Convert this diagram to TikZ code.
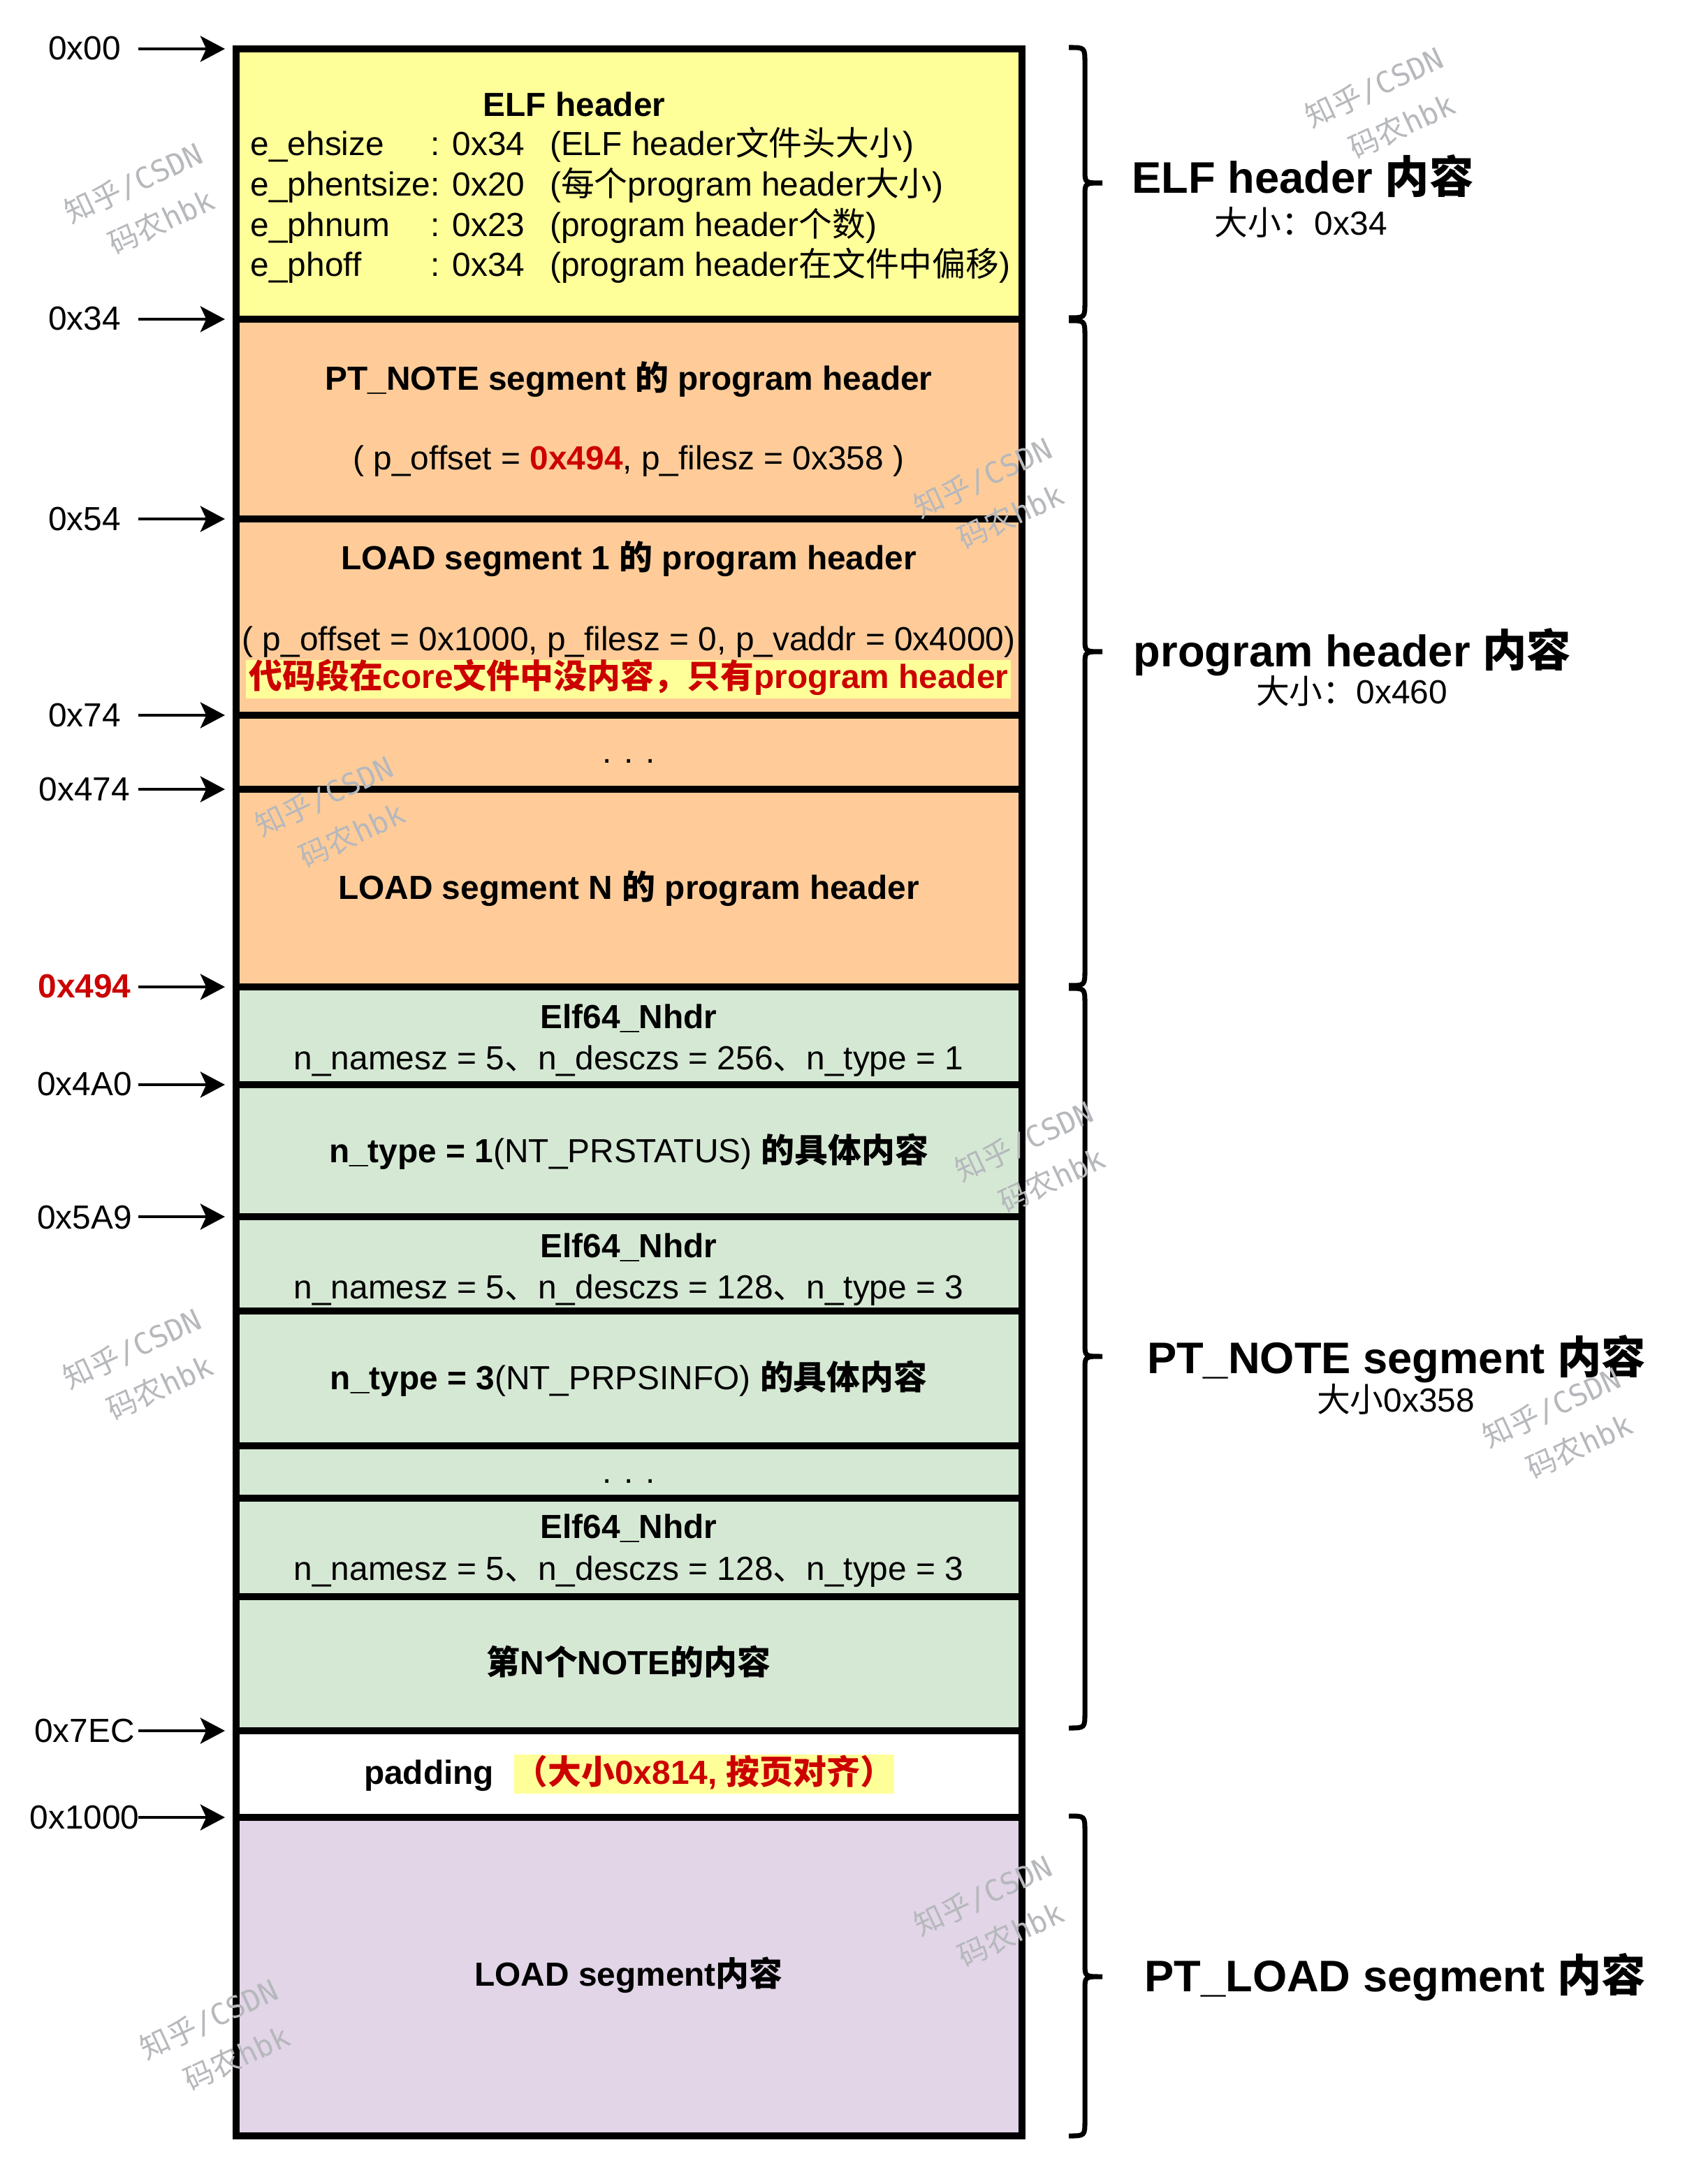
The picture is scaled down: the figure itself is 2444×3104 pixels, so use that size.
\documentclass[tikz,border=0pt]{standalone}
\usepackage{fontspec}
\setmainfont{Liberation Sans}
\newfontfamily\cjk{Noto Sans CJK SC}
\newfontfamily\wmlat{DejaVu Sans Mono}
\usetikzlibrary{arrows.meta}
\definecolor{elfy}{HTML}{FFFF99}
\definecolor{phor}{HTML}{FFCC99}
\definecolor{ntgr}{HTML}{D5E8D4}
\definecolor{ldpu}{HTML}{E1D5E7}
\definecolor{redc}{HTML}{CC0000}
\definecolor{wmg}{RGB}{182,184,188}
\newcommand\zh[1]{{\cjk #1}}
\newcommand\wmtext{{\cjk 知乎}{\wmlat /CSDN}\\\hspace*{0.9em}{\cjk 码农}{\wmlat hbk}}
\begin{document}
\begin{tikzpicture}[x=0.01cm,y=-0.01cm,
 sec/.style={draw=black,line width=2.6pt},
 txt/.style={font=\fontsize{13.6}{16.3}\selectfont,inner sep=0pt,anchor=base},
 btxt/.style={txt,font=\fontsize{13.6}{16.3}\selectfont\bfseries},
 ptr/.style={line width=1.3pt,-{Stealth[length=10pt,width=10.5pt,inset=2.4pt]}},
 brc/.style={line width=2pt},
 rbig/.style={font=\fontsize{18}{22}\selectfont\bfseries,inner sep=0pt,anchor=base},
 rsmall/.style={font=\fontsize{13.6}{16}\selectfont,inner sep=0pt,anchor=base},
 wm/.style={rotate=25,text=wmg,align=left,font=\fontsize{12}{19}\selectfont,inner sep=0pt}]

\useasboundingbox[fill=white] (0,0) rectangle (2444,3104);

% ---- sections ----
\draw[sec,fill=elfy] (338,70) rectangle (1463,457);
\draw[sec,fill=phor] (338,457) rectangle (1463,743);
\draw[sec,fill=phor] (338,743) rectangle (1463,1024);
\draw[sec,fill=phor] (338,1024) rectangle (1463,1130);
\draw[sec,fill=phor] (338,1130) rectangle (1463,1413);
\draw[sec,fill=ntgr] (338,1413) rectangle (1463,1553);
\draw[sec,fill=ntgr] (338,1553) rectangle (1463,1742);
\draw[sec,fill=ntgr] (338,1742) rectangle (1463,1877);
\draw[sec,fill=ntgr] (338,1877) rectangle (1463,2070);
\draw[sec,fill=ntgr] (338,2070) rectangle (1463,2145);
\draw[sec,fill=ntgr] (338,2145) rectangle (1463,2286);
\draw[sec,fill=ntgr] (338,2286) rectangle (1463,2478);
\draw[sec,fill=white] (338,2478) rectangle (1463,2602);
\draw[sec,fill=ldpu] (338,2602) rectangle (1463,3058);

% ---- ELF header text ----
\node[btxt] (elft) at (822,167) {ELF header};
\node[txt,anchor=base west] (elfrows) at (358,223) {\begin{tabular}[t]{@{}l@{}l@{\hspace{10.2pt}}l@{}}
e\_ehsize & : 0x34 & (ELF header\zh{文件头大小})\\
e\_phentsize & : 0x20 & (\zh{每个}program header\zh{大小})\\
e\_phnum & : 0x23 & (program header\zh{个数})\\
e\_phoff & : 0x34 & (program header\zh{在文件中偏移})
\end{tabular}};

% ---- program headers ----
\node[btxt] (notet) at (900,559) {PT\_NOTE segment \zh{的} program header};
\node[txt] (notep) at (900,673) {( p\_offset = {\bfseries\color{redc}0x494}, p\_filesz = 0x358 )};
\node[btxt] (ld1t) at (900,815) {LOAD segment 1 \zh{的} program header};
\node[txt] (ld1p) at (900,931) {( p\_offset = 0x1000, p\_filesz = 0, p\_vaddr = 0x4000)};
\fill[elfy] (352,945) rectangle (1447,1000);
\node[btxt,text=redc] (ld1r) at (900,985) {\zh{代码段在}core\zh{文件中没内容，只有}program header};
\node[txt] (dots1) at (900,1092) {. . .};
\node[btxt] (ldnt) at (900,1287) {LOAD segment N \zh{的} program header};

% ---- notes ----
\node[btxt] (nh1) at (900,1472) {Elf64\_Nhdr};
\node[txt] (nh1v) at (900,1531) {n\_namesz = 5\zh{、}n\_desczs = 256\zh{、}n\_type = 1};
\node[txt] (ns1) at (900,1664) {{\bfseries n\_type = 1}(NT\_PRSTATUS) {\bfseries\zh{的具体内容}}};
\node[btxt] (nh2) at (900,1800) {Elf64\_Nhdr};
\node[txt] (nh2v) at (900,1859) {n\_namesz = 5\zh{、}n\_desczs = 128\zh{、}n\_type = 3};
\node[txt] (ns2) at (900,1989) {{\bfseries n\_type = 3}(NT\_PRPSINFO) {\bfseries\zh{的具体内容}}};
\node[txt] (dots2) at (900,2123) {. . .};
\node[btxt] (nh3) at (900,2202) {Elf64\_Nhdr};
\node[txt] (nh3v) at (900,2262) {n\_namesz = 5\zh{、}n\_desczs = 128\zh{、}n\_type = 3};
\node[btxt] (nsn) at (900,2397) {\zh{第}N\zh{个}NOTE\zh{的内容}};
\node[btxt] (pad) at (614,2554) {padding};
\fill[elfy] (736,2512) rectangle (1280,2568);
\node[btxt,text=redc] (padr) at (1008,2554) {\zh{（大小}0x814, \zh{按页对齐）}};
\node[btxt] (ldc) at (900,2843) {LOAD segment\zh{内容}};

% ---- offset labels and arrows ----
\foreach \n/\y in {a/70,b/457,c/743,d/1024,e/1130,f/1413,g/1553,h/1742,i/2478,j/2602}{
  \coordinate (s\n) at (198,\y);
  \coordinate (t\n) at (322,\y);
  \draw[ptr] (s\n) -- (t\n);
}
\node[txt] (la) at (121,86) {0x00};
\node[txt] (lb) at (121,473) {0x34};
\node[txt] (lc) at (121,759) {0x54};
\node[txt] (ld) at (121,1040) {0x74};
\node[txt] (le) at (121,1146) {0x474};
\node[btxt,text=redc] (lf) at (121,1428) {0x494};
\node[txt] (lg) at (121,1568) {0x4A0};
\node[txt] (lh) at (121,1759) {0x5A9};
\node[txt] (li) at (121,2494) {0x7EC};
\node[txt] (lj) at (121,2618) {0x1000};

% ---- braces ----
\draw[brc] (1530,68) .. controls (1553,68) .. (1553,90) -- (1553,244) .. controls (1553,262) .. (1578,262) .. controls (1553,262) .. (1553,280) -- (1553,433) .. controls (1553,455) .. (1530,455);
\draw[brc] (1530,459) .. controls (1553,459) .. (1553,481) -- (1553,915) .. controls (1553,933) .. (1578,933) .. controls (1553,933) .. (1553,951) -- (1553,1389) .. controls (1553,1411) .. (1530,1411);
\draw[brc] (1530,1415) .. controls (1553,1415) .. (1553,1437) -- (1553,1924) .. controls (1553,1942) .. (1578,1942) .. controls (1553,1942) .. (1553,1960) -- (1553,2452) .. controls (1553,2474) .. (1530,2474);
\draw[brc] (1530,2600) .. controls (1553,2600) .. (1553,2622) -- (1553,2812) .. controls (1553,2830) .. (1578,2830) .. controls (1553,2830) .. (1553,2848) -- (1553,3036) .. controls (1553,3058) .. (1530,3058);

% ---- right labels ----
\node[rbig] (r1) at (1865,277) {ELF header \zh{内容}};
\node[rsmall] (r1s) at (1862,337) {\zh{大小：}0x34};
\node[rbig] (r2) at (1936,954) {program header \zh{内容}};
\node[rsmall] (r2s) at (1935,1007) {\zh{大小：}0x460};
\node[rbig] (r3) at (1999,1966) {PT\_NOTE segment \zh{内容}};
\node[rsmall] (r3s) at (1998,2021) {\zh{大小}0x358};
\node[rbig] (r4) at (1997,2851) {PT\_LOAD segment \zh{内容}};

% ---- watermarks ----
\node[wm] (w1) at (205,292) {\wmtext};
\node[wm] (w2) at (1981,155) {\wmtext};
\node[wm] (w3) at (1421,714) {\wmtext};
\node[wm] (w4) at (478,1170) {\wmtext};
\node[wm] (w5) at (1480,1664) {\wmtext};
\node[wm] (w6) at (203,1961) {\wmtext};
\node[wm] (w7) at (2235,2045) {\wmtext};
\node[wm] (w8) at (1421,2744) {\wmtext};
\node[wm] (w9) at (313,2921) {\wmtext};
\end{tikzpicture}
\end{document}
